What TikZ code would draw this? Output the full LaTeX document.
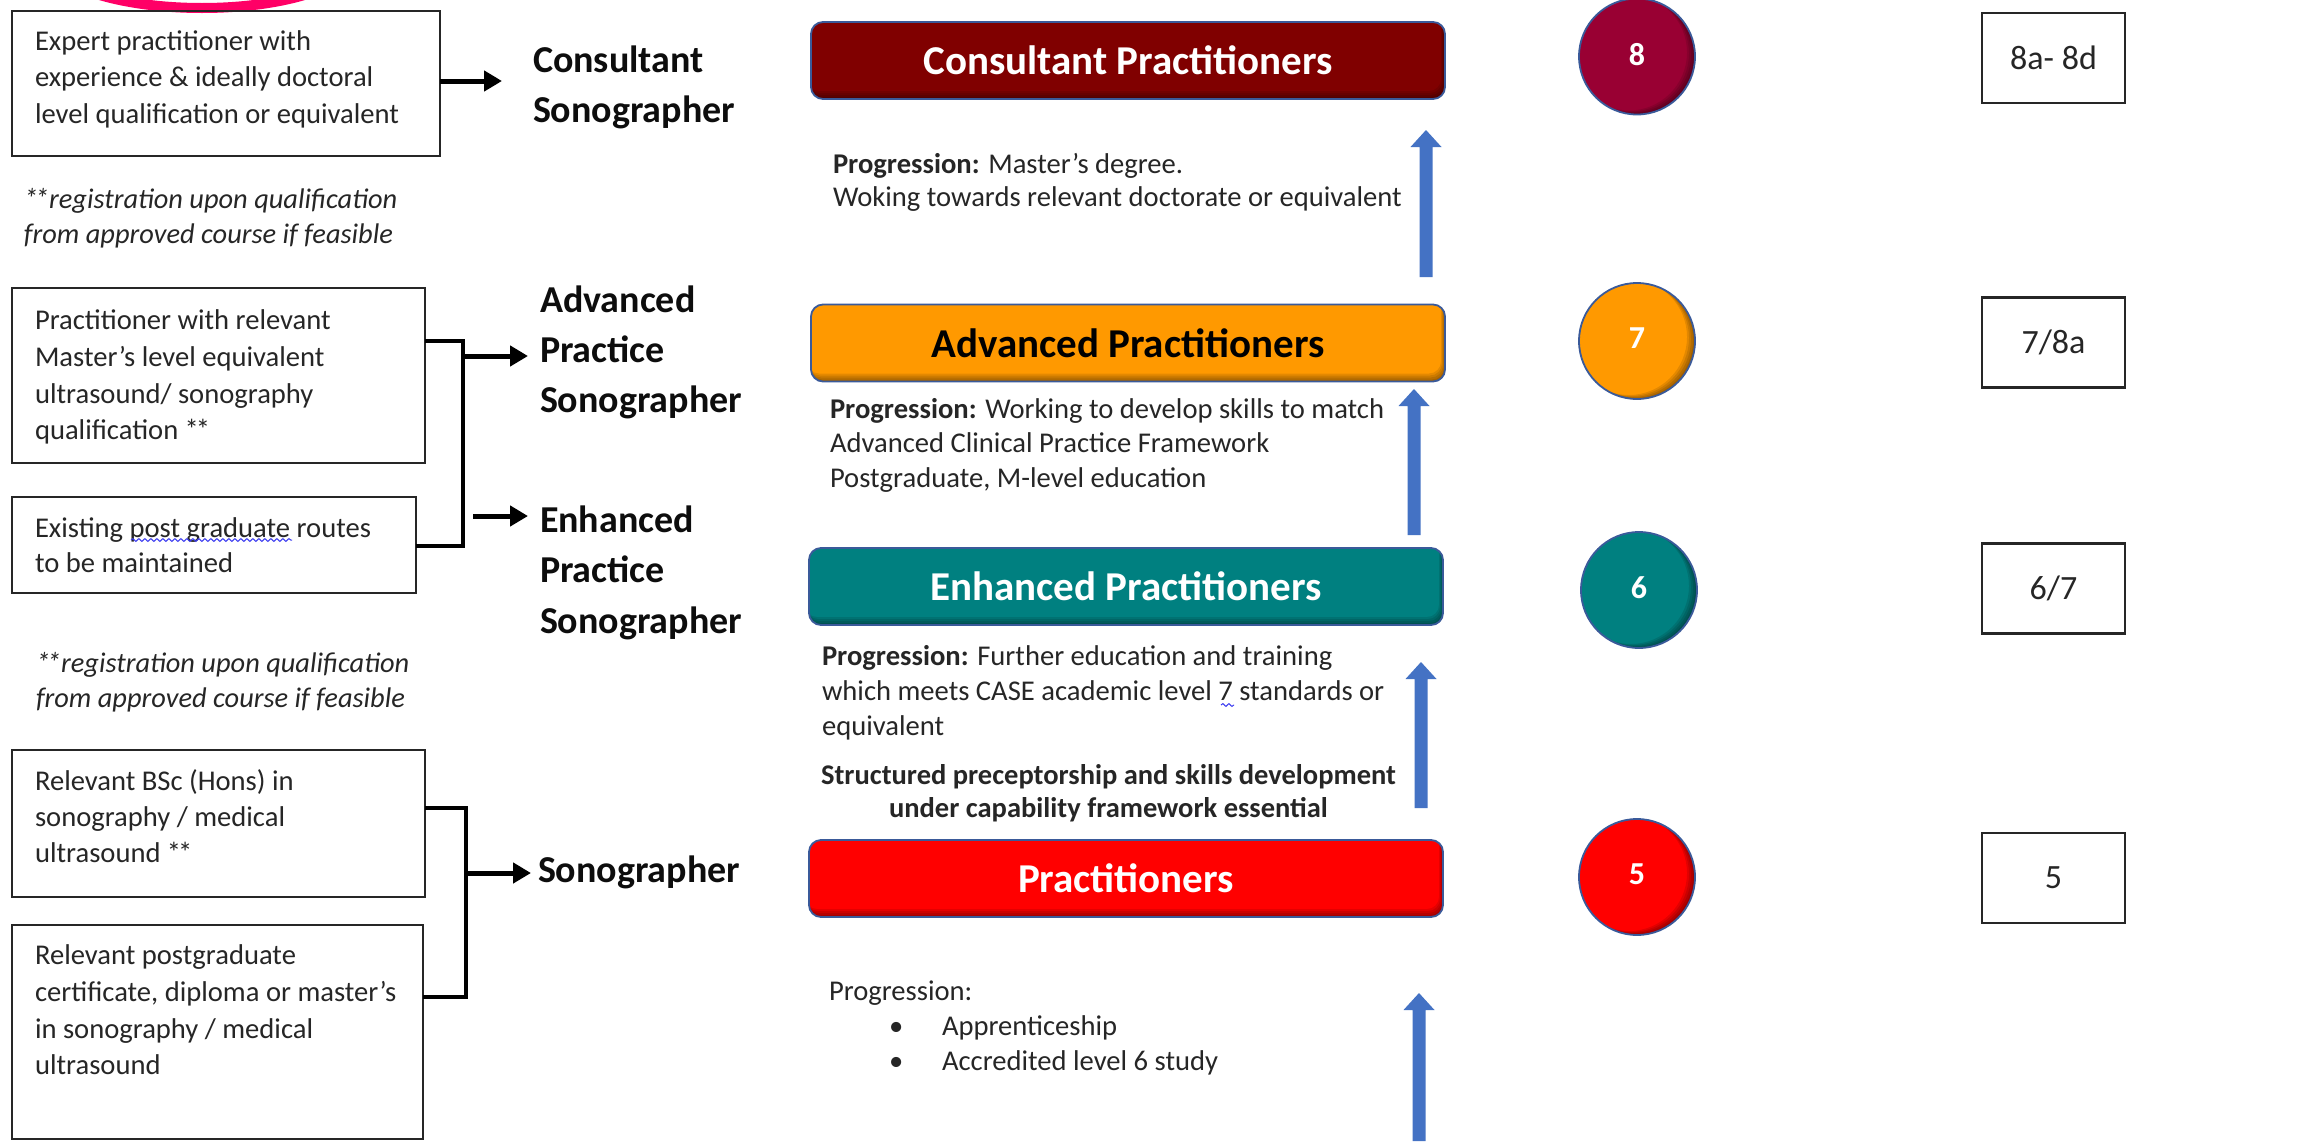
\documentclass[tikz,border=0pt]{standalone}
\usepackage{fontspec}
\setmainfont{Carlito}
\usetikzlibrary{arrows.meta,calc,decorations.pathmorphing}

\definecolor{maroonbox}{HTML}{800000}
\definecolor{orangebox}{HTML}{FF9900}
\definecolor{tealbox}{HTML}{008080}
\definecolor{redbox}{HTML}{FF0000}
\definecolor{crimsonball}{HTML}{990033}
\definecolor{edgeblue}{HTML}{3A5A9A}
\definecolor{arrowblue}{HTML}{4472C4}
\definecolor{inkgray}{HTML}{262626}
\definecolor{markpink}{HTML}{FF0066}
\definecolor{spellblue}{HTML}{3B3BF0}

% font size / baseline skip shortcut
\newcommand{\setfs}[2]{\fontsize{#1}{#2}\selectfont}
% tightly set double asterisk
\newcommand{\dstar}{*\kern-1.6pt*}
% broad upward progression arrow: x, bottom y, tip y
\newcommand{\blueup}[3]{%
  \fill[progarrow] (#1-6.5,#2) -- (#1-6.5,#3+17) -- (#1-15.5,#3+17) -- (#1,#3)
    -- (#1+15.5,#3+17) -- (#1+6.5,#3+17) -- (#1+6.5,#2) -- cycle;}

\begin{document}
\begin{tikzpicture}[x=0.5pt,y=-0.5pt,
  every node/.style={inner sep=0pt,outer sep=0pt},
  qualbox/.style={draw=black!85,line width=1.2pt,rectangle},
  gradebox/.style={draw=black!85,line width=1.2pt,rectangle,minimum width=71.5pt,
    minimum height=45pt,text=inkgray,font=\setfs{17}{20}},
  bodytext/.style={anchor=north west,align=left,text=inkgray},
  notetext/.style={anchor=north west,align=left,text=inkgray,font=\itshape\setfs{14.2}{17.5}},
  heading/.style={anchor=north west,align=left,text=black!95},
  feedarrow/.style={line width=2.5pt,-{Triangle[length=9pt,width=10pt]}},
  bracket/.style={line width=1.6pt,black},
  progarrow/.style={fill=arrowblue},
  spellmark/.style={spellblue,line width=0.5pt,decorate,
    decoration={snake,amplitude=0.7pt,segment length=3pt}},
  tier/.style={rectangle,rounded corners=6pt,minimum width=317pt,minimum height=38.5pt,
    draw=edgeblue,line width=0.9pt,font=\bfseries\setfs{20.5}{24},
    path picture={
      \foreach \k in {2,4,6,8}{
        \fill[black,opacity=0.1,even odd rule]
          ([shift={(-40,-40)}]path picture bounding box.north west) rectangle
          ([shift={(40,40)}]path picture bounding box.south east)
          [rounded corners=6pt]
          ([shift={(-0.5*\k,-\k)}]path picture bounding box.north west) rectangle
          ([shift={(-0.5*\k,-\k)}]path picture bounding box.south east);
      }}},
  ball/.style={circle,minimum size=58pt,draw=edgeblue,line width=0.9pt,text=white,
    font=\bfseries\setfs{16}{19},
    path picture={
      \foreach \k in {2,4,6,8}{
        \fill[black,opacity=0.11,even odd rule]
          ([shift={(-80,-80)}]path picture bounding box.center) rectangle
          ([shift={(80,80)}]path picture bounding box.center)
          ([shift={(-\k,-0.5*\k)}]path picture bounding box.center) circle [radius=29pt];
      }}}
]
\useasboundingbox (0,0) rectangle (2297,1141);
\fill[white] (0,0) rectangle (2297,1141);

% pink highlight ring cut by the top edge
\draw[markpink,line width=5pt] (202,-45) ellipse [x radius=78pt,y radius=26.5pt];

% ---------- entry routes (left column) ----------
\node[qualbox,minimum width=214pt,minimum height=72.5pt] (q1) at (226,83.5) {};
\node[bodytext,font=\setfs{14.3}{18.25}] (q1t) at (35,24.5)
  {\strut Expert practitioner with\\experience \& ideally doctoral\\level qualification or equivalent};

\node[notetext] (n1) at (24,183.5)
  {\strut \dstar registration upon qualification\\from approved course if feasible};

\node[qualbox,minimum width=206.5pt,minimum height=87.5pt] (q2) at (218.5,375.5) {};
\node[bodytext,font=\setfs{14.3}{18.35}] (q2t) at (35,304)
  {\strut Practitioner with relevant\\Master’s level equivalent\\ultrasound/ sonography\\qualification \dstar};

\node[qualbox,minimum width=202pt,minimum height=48pt] (q3) at (214,545) {};
\node[bodytext,font=\setfs{14.3}{17.5}] (q3t) at (35,512.5)
  {\strut Existing post graduate routes\\to be maintained};
\draw[spellmark] (131,540) -- (292,540);

\node[notetext] (n2) at (36,647.5)
  {\strut \dstar registration upon qualification\\from approved course if feasible};

\node[qualbox,minimum width=206.5pt,minimum height=73.5pt] (q4) at (218.5,823.5) {};
\node[bodytext,font=\setfs{14.3}{18}] (q4t) at (35,765)
  {\strut Relevant BSc (Hons) in\\sonography / medical\\ultrasound \dstar};

\node[qualbox,minimum width=205.5pt,minimum height=107pt] (q5) at (217.5,1032) {};
\node[bodytext,font=\setfs{14.3}{18.35}] (q5t) at (35,939)
  {\strut Relevant postgraduate\\certificate, diploma or master’s\\in sonography / medical\\ultrasound};

% ---------- role titles ----------
\node[heading,font=\bfseries\setfs{19}{25}] (h8) at (533,37) {\strut Consultant\\Sonographer};
\node[heading,font=\bfseries\setfs{19}{25}] (h7) at (540,277) {\strut Advanced\\Practice\\Sonographer};
\node[heading,font=\bfseries\setfs{19}{25.25}] (h6) at (540,497) {\strut Enhanced\\Practice\\Sonographer};
\node[heading,font=\bfseries\setfs{19}{25}] (h5) at (538,847) {\strut Sonographer};

% ---------- connectors from routes to roles ----------
\coordinate (a8) at (502,81);
\draw[feedarrow] (q1.east |- a8) -- (a8);

\coordinate (j7) at (463,341);
\coordinate (j6) at (463,546);
\draw[bracket] (q2.east |- j7) -- (j7) -- (j6) -- (q3.east |- j6);
\coordinate (a7) at (528,356);
\draw[feedarrow] (j7 |- a7) -- (a7);
\coordinate (a6) at (528,516);
\coordinate (a6s) at (473,516);
\draw[feedarrow] (a6s) -- (a6);

\coordinate (j5a) at (466,808);
\coordinate (j5b) at (466,997);
\draw[bracket] (q4.east |- j5a) -- (j5a) -- (j5b) -- (q5.east |- j5b);
\coordinate (a5) at (531,873);
\draw[feedarrow] (j5a |- a5) -- (a5);

% ---------- practitioner tiers ----------
\node[tier,fill=maroonbox,text=white] (t8) at (1128,60.5) {Consultant Practitioners};
\node[tier,fill=orangebox,text=black] (t7) at (1128,343) {Advanced Practitioners};
\node[tier,fill=tealbox,text=white] (t6) at (1126,586.5) {Enhanced Practitioners};
\node[tier,fill=redbox,text=white] (t5) at (1126,878.5) {Practitioners};

% ---------- progression notes ----------
\node[bodytext,font=\setfs{14.3}{16.5}] (p8) at (833,150)
  {\strut\textbf{Progression:} Master’s degree.\\Woking towards relevant doctorate or equivalent};
\node[bodytext,font=\setfs{14.3}{17.25}] (p7) at (830,394)
  {\strut\textbf{Progression:} Working to develop skills to match\\Advanced Clinical Practice Framework\\Postgraduate, M-level education};
\node[bodytext,font=\setfs{14.3}{17.5}] (p6) at (822,640.5)
  {\strut\textbf{Progression:} Further education and training\\which meets CASE academic level 7 standards or\\equivalent};
\draw[spellmark] (1221,705) -- (1234,705);
\node[anchor=north,align=center,text=inkgray,font=\bfseries\setfs{14.25}{16.5}] (p6b) at (1108.5,761)
  {\strut Structured preceptorship and skills development\\under capability framework essential};
\node[bodytext,font=\setfs{14.3}{17.5}] (p5) at (829,975.5)
  {\strut Progression:\\\hspace*{30pt}\makebox[26.5pt][l]{•}Apprenticeship\\\hspace*{30pt}\makebox[26.5pt][l]{•}Accredited level 6 study};

% upward progression arrows
\blueup{1426}{277}{130}
\blueup{1414}{535}{389}
\blueup{1421}{808}{662}
\blueup{1419}{1141}{993}

% ---------- academic levels ----------
\node[ball,fill=crimsonball] (c8) at (1637,56.5) {\raisebox{2.5pt}{8}};
\node[ball,fill=orangebox] (c7) at (1637,341) {\raisebox{2.5pt}{7}};
\node[ball,fill=tealbox] (c6) at (1639,590) {\raisebox{2.5pt}{6}};
\node[ball,fill=redbox] (c5) at (1637,877) {\raisebox{2.5pt}{5}};

% ---------- pay bands ----------
\node[gradebox] (g8) at (2053.5,58) {8a- 8d};
\node[gradebox] (g7) at (2053.5,342.5) {7/8a};
\node[gradebox] (g6) at (2053.5,588.5) {6/7};
\node[gradebox] (g5) at (2053.5,878) {5};
\end{tikzpicture}
\end{document}
